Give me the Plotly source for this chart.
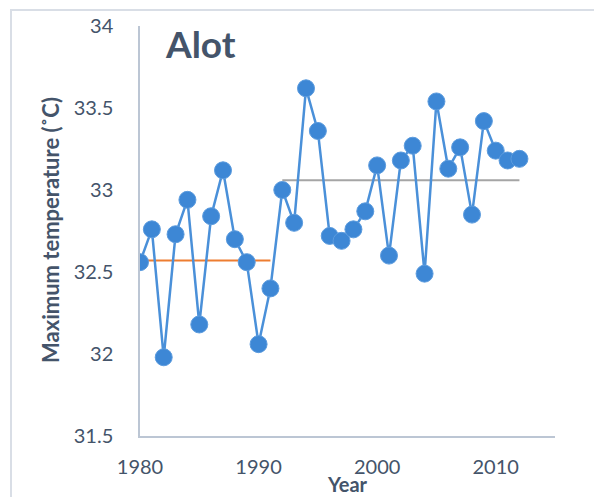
import plotly.graph_objects as go

years = list(range(1980, 2013))
tmax = [32.56, 32.76, 31.98, 32.73, 32.94, 32.18, 32.84, 33.12, 32.70, 32.56,
        32.06, 32.40, 33.00, 32.80, 33.62, 33.36, 32.72, 32.69, 32.76, 32.87,
        33.15, 32.60, 33.18, 33.27, 32.49, 33.54, 33.13, 33.26, 32.85, 33.42,
        33.24, 33.18, 33.19]

mean1_years = [1980, 1991]
mean1_value = [32.57, 32.57]
mean2_years = [1992, 2012]
mean2_value = [33.06, 33.06]

y_ticks = [31.5, 32, 32.5, 33, 33.5, 34]
y_ticklabels = ["31.5", "32", "32.5", "33", "33.5", "34"]
x_ticks = [1980, 1990, 2000, 2010]

title_text = "Alot"
x_title = "Year"
y_title = "Maximum temperature (˚C)"

txt = "#44546A"
font = "Lato, 'Open Sans', sans-serif"

fig = go.Figure()
fig.add_trace(go.Scatter(x=mean1_years, y=mean1_value, mode="lines",
                         line=dict(color="#ED7D31", width=2), showlegend=False))
fig.add_trace(go.Scatter(x=mean2_years, y=mean2_value, mode="lines",
                         line=dict(color="#A5A5A5", width=2), showlegend=False))
fig.add_trace(go.Scatter(x=years, y=tmax, mode="lines+markers",
                         line=dict(color="#4A90D9", width=2.5),
                         marker=dict(size=17, color="#3D87D5",
                                     line=dict(color="#5B9BDE", width=1)),
                         showlegend=False))

W, H = 594, 497
L, R, T, B = 140, 39, 26, 61
pw, ph = W - L - R, H - T - B

def px(x):
    return (x - L) / pw

def py(y):
    return (H - B - y) / ph

fig.update_layout(
    width=W, height=H,
    margin=dict(l=L, r=R, t=T, b=B),
    plot_bgcolor="white", paper_bgcolor="white",
    font=dict(family=font, color=txt, size=20),
    xaxis=dict(range=[1980, 2015], tickvals=x_ticks, showgrid=False, zeroline=False,
               showline=True, linecolor="#BCC6D4", linewidth=1.5, ticks="",
               ticklabelstandoff=12, tickfont=dict(size=20, color=txt)),
    yaxis=dict(range=[31.5, 34], tickvals=y_ticks, ticktext=y_ticklabels,
               showgrid=False, zeroline=False,
               showline=True, linecolor="#BCC6D4", linewidth=1.5, ticks="",
               ticklabelstandoff=21, tickfont=dict(size=20, color=txt)),
    shapes=[dict(type="rect", xref="paper", yref="paper",
                 x0=px(11), x1=px(600), y0=py(10), y1=py(520),
                 line=dict(color="#D9DEE6", width=2), fillcolor="rgba(0,0,0,0)",
                 layer="below")],
    annotations=[
        dict(text="<b>" + title_text + "</b>", xref="paper", yref="paper",
             x=px(163), y=py(43), xanchor="left", yanchor="middle",
             showarrow=False, font=dict(size=37, color=txt, family=font)),
        dict(text="<b>" + x_title + "</b>", xref="paper", yref="paper",
             x=px(347), y=py(484), xanchor="center", yanchor="middle",
             showarrow=False, font=dict(size=20, color=txt, family=font)),
        dict(text="<b>" + y_title + "</b>", xref="paper", yref="paper",
             x=px(50), y=py(230), xanchor="center", yanchor="middle", textangle=-90,
             showarrow=False, font=dict(size=22, color=txt, family=font)),
    ],
)

fig.write_html("out.html", config={"displayModeBar": False})

with open("out.html", "r", encoding="utf-8") as f:
    html = f.read()
html = html.replace("<head>", "<head><style>html,body{margin:0;padding:0;overflow:hidden;}</style>", 1)
with open("out.html", "w", encoding="utf-8") as f:
    f.write(html)
